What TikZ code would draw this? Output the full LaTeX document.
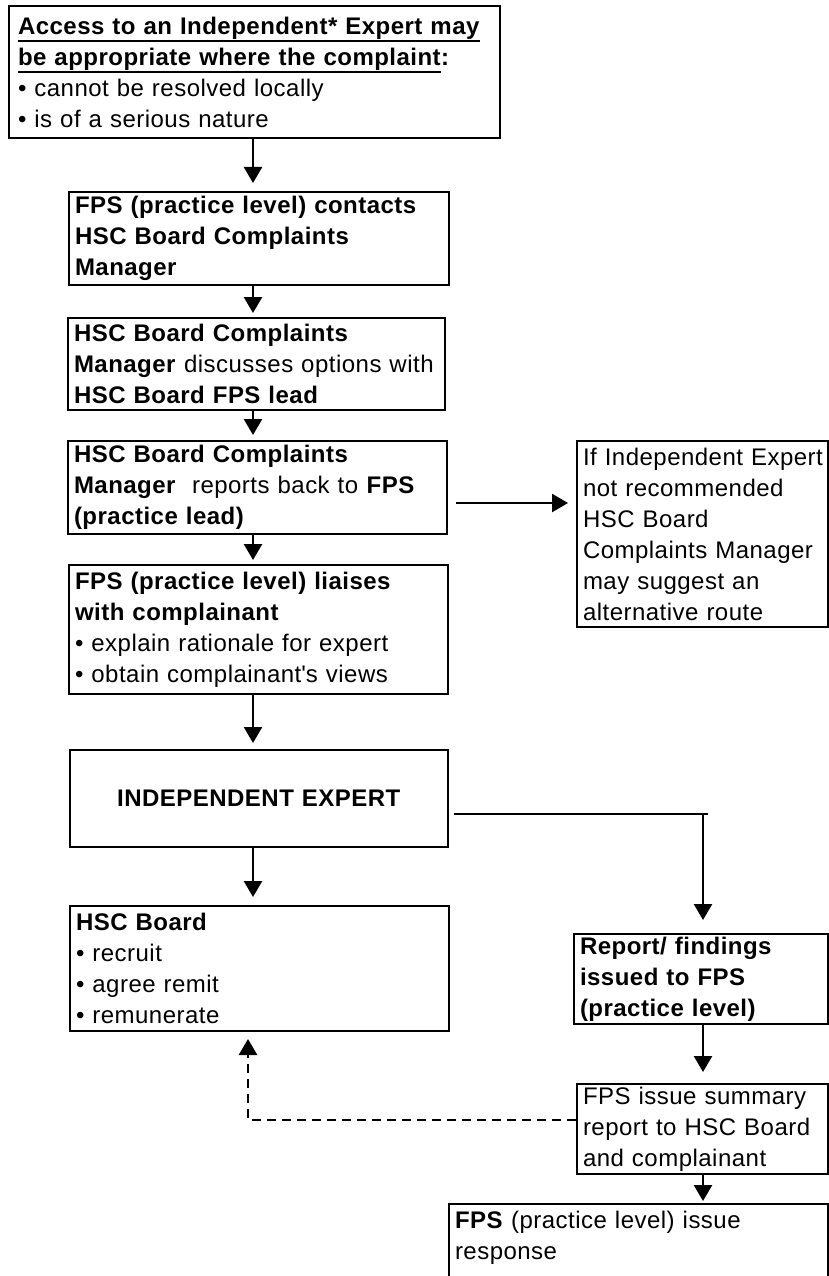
\documentclass[tikz,border=0pt]{standalone}
\usepackage{fontspec}
\setmainfont[LetterSpace=2]{Liberation Sans}
\usetikzlibrary{arrows.meta,positioning}
\newcommand{\ulinetext}[1]{\leavevmode\vtop{\hbox{#1}\kern0.6pt\hrule height 2pt}}

\begin{document}
\begin{tikzpicture}[x=1pt,y=-1pt,
  box/.style={draw,line width=2pt,anchor=north west,align=left,inner xsep=6pt,inner ysep=0pt,font=\fontsize{24}{31}\selectfont},
  arr/.style={line width=2.6pt,-{Triangle[width=18pt,length=16pt]}},
  dasharr/.style={arr,dash pattern=on 9pt off 6pt}]
\useasboundingbox (0,0) rectangle (828,1276);
\node[box,inner xsep=9pt,minimum width=491pt,minimum height=132pt,text width=473pt] (access) at (8,5)
  {\ulinetext{\textbf{Access to an Independent* Expert may}}\\
   \ulinetext{\textbf{be appropriate where the complaint}}\textbf{:}\\
   \textbullet{} cannot be resolved locally\\
   \textbullet{} is of a serious nature};
\node[box,minimum width=380pt,minimum height=93pt,text width=368pt] (contact) at (68,191)
  {\textbf{FPS (practice level) contacts}\\ \textbf{HSC Board Complaints}\\ \textbf{Manager}};
\node[box,minimum width=377pt,minimum height=92pt,text width=365pt] (discuss) at (67,317)
  {\textbf{HSC Board Complaints}\\ \mbox{\textbf{Manager} discusses options with}\\ \textbf{HSC Board FPS lead}};
\node[box,minimum width=379pt,minimum height=93pt,text width=367pt] (reportback) at (67,440)
  {\textbf{HSC Board Complaints}\\ \textbf{Manager}~ reports back to \textbf{FPS}\\ \textbf{(practice lead)}};
\node[box,minimum width=379pt,minimum height=129pt,text width=367pt] (liaise) at (68,564)
  {\textbf{FPS (practice level) liaises}\\ \textbf{with complainant}\\
   \textbullet{} explain rationale for expert\\ \textbullet{} obtain complainant\textquotesingle s views};
\node[box,align=center,minimum width=378pt,minimum height=97pt,text width=366pt] (expert) at (69,749)
  {\textbf{INDEPENDENT EXPERT}};
\node[box,minimum width=379pt,minimum height=125pt,text width=367pt] (board) at (69,905)
  {\textbf{HSC Board}\\ \textbullet{} recruit\\ \textbullet{} agree remit\\ \textbullet{} remunerate};
\node[box,minimum width=251pt,minimum height=186pt,text width=239pt] (alternative) at (576,440)
  {\mbox{If Independent Expert}\\ not recommended\\ HSC Board\\ \mbox{Complaints Manager}\\ may suggest an\\ alternative route};
\node[box,minimum width=254pt,minimum height=90pt,text width=242pt] (findings) at (573,933)
  {\textbf{Report/ findings}\\ \textbf{issued to FPS}\\ \textbf{(practice level)}};
\node[box,minimum width=251pt,minimum height=90pt,text width=239pt] (summary) at (576,1083)
  {FPS issue summary\\ \mbox{report to HSC Board}\\ and complainant};
\node[box,minimum width=379pt,minimum height=124pt,text width=367pt] (response) at (448,1203)
  {\textbf{FPS} (practice level) issue\\ response\\ ~\\ ~};
\coordinate (col) at (253,0);
\coordinate (turn) at (703,814);
\coordinate (dashcorner) at (248,1120);
\draw[arr,shorten >=8pt] (access.south -| col) -- (contact.north -| col);
\draw[arr,shorten >=4pt] (contact.south -| col) -- (discuss.north -| col);
\draw[arr,shorten >=5pt] (discuss.south -| col) -- (reportback.north -| col);
\draw[arr,shorten >=4pt] (reportback.south -| col) -- (liaise.north -| col);
\draw[arr,shorten >=6pt] (liaise.south -| col) -- (expert.north -| col);
\draw[arr,shorten >=8pt] (expert.south -| col) -- (board.north -| col);
\draw[arr,shorten <=8pt,shorten >=8pt] (reportback.east |- 0,503) -- (alternative.west |- 0,503);
\draw[line width=1.6pt,shorten <=5pt,shorten >=-5pt] (expert.east |- turn) -- (turn);
\draw[arr,shorten >=13pt] (turn) -- (findings.north -| turn);
\draw[arr,shorten >=11pt] (findings.south -| turn) -- (summary.north -| turn);
\draw[arr,shorten >=2pt] (summary.south -| turn) -- (response.north -| turn);
\draw[dasharr,shorten >=7pt] (summary.west |- dashcorner) -- (dashcorner) -- (board.south -| dashcorner);
\end{tikzpicture}
\end{document}
